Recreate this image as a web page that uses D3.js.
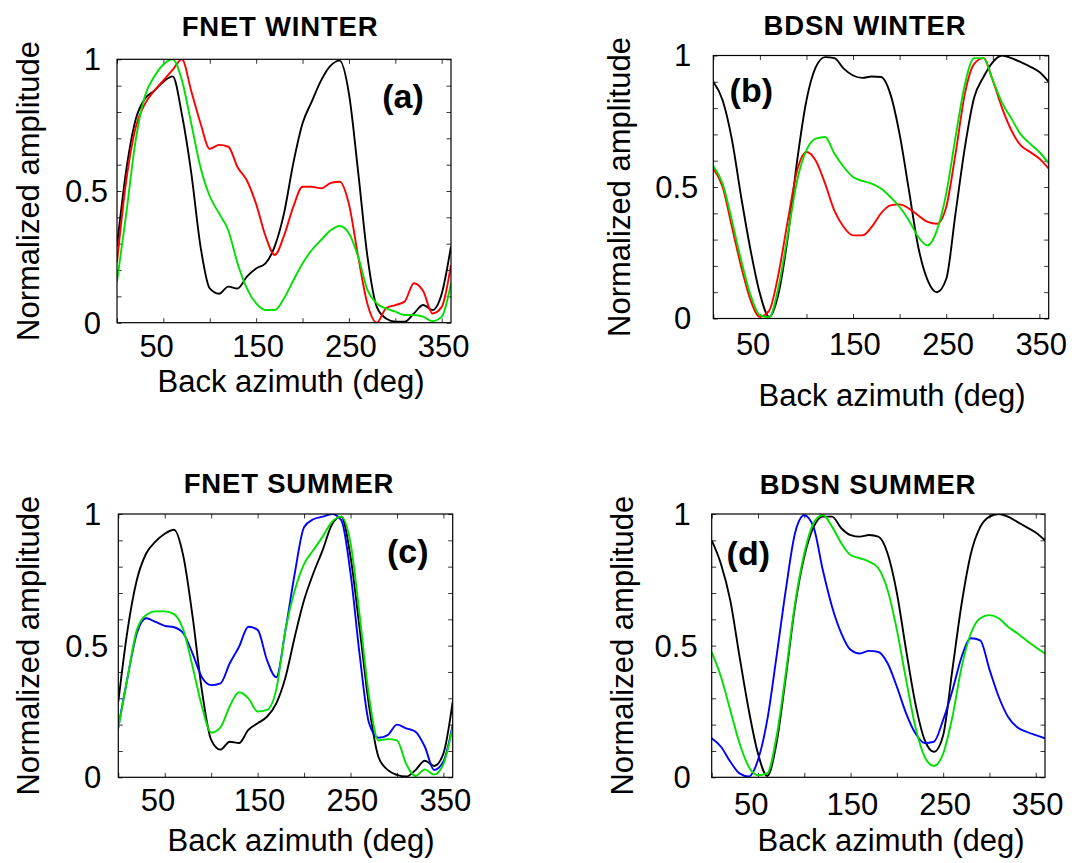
<!DOCTYPE html>
<html>
<head>
<meta charset="utf-8">
<script src="https://cdn.jsdelivr.net/npm/d3@7"></script>
<style>
body { margin: 0; background: #fff; }
svg text { font-family: "Liberation Sans", Arial, Helvetica, sans-serif; fill: #000; }
</style>
</head>
<body>
<svg id="chart" width="1074" height="863"></svg>
<script>
// back azimuth samples (deg), shared by all curves
var azimuth = [0, 10, 20, 30, 40, 50, 60, 70, 80, 90, 100, 110, 120, 130, 140, 150, 160, 170, 180,
               190, 200, 210, 220, 230, 240, 250, 260, 270, 280, 290, 300, 310, 320, 330, 340, 350, 360];

var xTicks = [0, 50, 100, 150, 200, 250, 300, 350];
var xTickLabels = [50, 150, 250, 350];
var yTicks = [0, 0.1, 0.2, 0.3, 0.4, 0.5, 0.6, 0.7, 0.8, 0.9, 1];
var yTickLabels = [0, 0.5, 1];

// (a) FNET winter
var fnetWinterBlack = [0.29, 0.58, 0.77, 0.85, 0.88, 0.915, 0.935, 0.79, 0.57, 0.29, 0.13, 0.11, 0.137, 0.13, 0.175, 0.206, 0.225, 0.29, 0.415,
                       0.605, 0.757, 0.84, 0.92, 0.975, 0.995, 0.87, 0.57, 0.25, 0.06, 0.016, 0.004, 0.004, 0.035, 0.067, 0.048, 0.11, 0.29];
var fnetWinterRed = [0.23, 0.54, 0.74, 0.83, 0.88, 0.92, 0.96, 1.0, 0.88, 0.757, 0.66, 0.675, 0.668, 0.59, 0.54, 0.45, 0.33, 0.257, 0.33,
                     0.44, 0.516, 0.516, 0.51, 0.53, 0.535, 0.45, 0.25, 0.07, 0.0, 0.055, 0.067, 0.08, 0.15, 0.12, 0.035, 0.06, 0.22];
var fnetWinterGreen = [0.156, 0.415, 0.69, 0.86, 0.934, 0.98, 1.0, 0.92, 0.757, 0.59, 0.48, 0.415, 0.35, 0.225, 0.13, 0.073, 0.048, 0.048, 0.092,
                       0.16, 0.225, 0.276, 0.314, 0.35, 0.367, 0.34, 0.25, 0.124, 0.073, 0.054, 0.042, 0.029, 0.029, 0.023, 0.006, 0.023, 0.15];

// (b) BDSN winter
var bdsnWinterBlack = [0.90, 0.83, 0.68, 0.46, 0.26, 0.095, 0.006, 0.095, 0.31, 0.60, 0.83, 0.956, 0.994, 0.99, 0.95, 0.924, 0.915, 0.92, 0.918,
                       0.854, 0.70, 0.487, 0.272, 0.146, 0.10, 0.15, 0.40, 0.65, 0.84, 0.918, 0.975, 1.0, 0.99, 0.975, 0.958, 0.937, 0.90];
var bdsnWinterRed = [0.57, 0.50, 0.348, 0.196, 0.07, 0.006, 0.03, 0.17, 0.373, 0.563, 0.633, 0.60, 0.513, 0.41, 0.348, 0.316, 0.316, 0.348, 0.40,
                     0.43, 0.434, 0.418, 0.392, 0.367, 0.36, 0.424, 0.627, 0.854, 0.968, 0.99, 0.905, 0.80, 0.715, 0.658, 0.633, 0.608, 0.57];
var bdsnWinterGreen = [0.58, 0.513, 0.373, 0.22, 0.089, 0.013, 0.005, 0.12, 0.32, 0.525, 0.64, 0.684, 0.69, 0.627, 0.576, 0.538, 0.523, 0.513, 0.494,
                       0.462, 0.424, 0.373, 0.31, 0.278, 0.335, 0.475, 0.69, 0.89, 0.99, 0.99, 0.905, 0.82, 0.76, 0.70, 0.665, 0.633, 0.59];

// (c) FNET summer
var fnetSummerBlack = [0.287, 0.56, 0.75, 0.85, 0.895, 0.925, 0.94, 0.84, 0.61, 0.33, 0.142, 0.105, 0.135, 0.13, 0.18, 0.205, 0.23, 0.28, 0.38,
                       0.534, 0.673, 0.775, 0.863, 0.96, 0.99, 0.838, 0.56, 0.27, 0.078, 0.028, 0.009, 0.003, 0.028, 0.063, 0.043, 0.09, 0.287];
var fnetSummerBlue = [0.19, 0.38, 0.547, 0.604, 0.59, 0.575, 0.57, 0.547, 0.47, 0.38, 0.35, 0.357, 0.433, 0.496, 0.572, 0.56, 0.446, 0.38, 0.56,
                      0.775, 0.95, 0.98, 0.99, 1.0, 0.977, 0.775, 0.46, 0.205, 0.15, 0.16, 0.2, 0.186, 0.173, 0.116, 0.028, 0.06, 0.2];
var fnetSummerGreen = [0.186, 0.38, 0.56, 0.616, 0.63, 0.63, 0.62, 0.56, 0.42, 0.27, 0.17, 0.19, 0.27, 0.323, 0.30, 0.25, 0.256, 0.332, 0.56,
                       0.71, 0.81, 0.863, 0.914, 0.97, 0.99, 0.89, 0.61, 0.306, 0.14, 0.145, 0.14, 0.05, 0.005, 0.03, 0.01, 0.05, 0.19];

// (d) BDSN summer
var bdsnSummerBlack = [0.90, 0.81, 0.673, 0.46, 0.256, 0.09, 0.005, 0.13, 0.38, 0.65, 0.838, 0.95, 0.99, 0.99, 0.946, 0.92, 0.914, 0.92, 0.914,
                       0.85, 0.70, 0.483, 0.28, 0.142, 0.097, 0.16, 0.41, 0.66, 0.85, 0.95, 0.99, 1.0, 0.99, 0.97, 0.95, 0.93, 0.90];
var bdsnSummerBlue = [0.148, 0.116, 0.06, 0.015, 0.003, 0.066, 0.218, 0.458, 0.711, 0.927, 0.995, 0.95, 0.787, 0.648, 0.547, 0.484, 0.47, 0.48, 0.476,
                      0.433, 0.344, 0.243, 0.167, 0.13, 0.135, 0.218, 0.33, 0.458, 0.528, 0.52, 0.41, 0.306, 0.23, 0.19, 0.173, 0.16, 0.148];
var bdsnSummerGreen = [0.475, 0.382, 0.256, 0.13, 0.04, 0.008, 0.015, 0.154, 0.395, 0.66, 0.85, 0.965, 0.996, 0.952, 0.889, 0.844, 0.832, 0.819, 0.794,
                       0.711, 0.56, 0.37, 0.192, 0.078, 0.043, 0.09, 0.23, 0.42, 0.547, 0.604, 0.616, 0.604, 0.572, 0.547, 0.52, 0.494, 0.47];

var BLACK = '#000', RED = '#ff0000', GREEN = '#00e000', BLUE = '#0000ff';

// layout of each subplot (pixel positions)
var panels = [
    { title: 'FNET WINTER', tag: '(a)', left: 117, top: 59.3, width: 334, height: 263.4,
      titleX: 280, titleY: 36, tagX: 286, tagY: 49, ylabX: -78, xlabX: 291, xlabDy: 69, tickDy: 34, yGap: 9,
      series: [[fnetWinterBlack, BLACK], [fnetWinterRed, RED], [fnetWinterGreen, GREEN]] },
    { title: 'BDSN WINTER', tag: '(b)', left: 713.3, top: 55.5, width: 335.4, height: 263,
      titleX: 865, titleY: 35, tagX: 38, tagY: 46, ylabX: -83, xlabX: 892, xlabDy: 87, tickDy: 36, yGap: 15,
      series: [[bdsnWinterBlack, BLACK], [bdsnWinterRed, RED], [bdsnWinterGreen, GREEN]] },
    { title: 'FNET SUMMER', tag: '(c)', left: 118.3, top: 514, width: 334.4, height: 263.3,
      titleX: 289, titleY: 493, tagX: 289.5, tagY: 49, ylabX: -79, xlabX: 301, xlabDy: 74, tickDy: 34, yGap: 10,
      series: [[fnetSummerBlack, BLACK], [fnetSummerBlue, BLUE], [fnetSummerGreen, GREEN]] },
    { title: 'BDSN SUMMER', tag: '(d)', left: 711.7, top: 514, width: 333.3, height: 263.3,
      titleX: 868, titleY: 494, tagX: 36.6, tagY: 51, ylabX: -79, xlabX: 891, xlabDy: 74, tickDy: 38, yGap: 14,
      series: [[bdsnSummerBlack, BLACK], [bdsnSummerBlue, BLUE], [bdsnSummerGreen, GREEN]] }
];

var svg = d3.select('#chart');
var tickLen = 4.5;

panels.forEach(function(p, i) {
    var x = d3.scaleLinear().domain([0, 360]).range([0, p.width]);
    var y = d3.scaleLinear().domain([0, 1]).range([p.height, 0]);

    // title
    svg.append('text')
        .attr('x', p.titleX)
        .attr('y', p.titleY)
        .attr('text-anchor', 'middle')
        .style('font-size', '27.5px')
        .style('font-weight', 'bold')
        .style('letter-spacing', '0.8px')
        .text(p.title);

    var g = svg.append('g')
        .attr('transform', 'translate(' + p.left + ',' + p.top + ')');

    g.append('clipPath').attr('id', 'clip' + i)
        .append('rect').attr('width', p.width).attr('height', p.height);

    // axes: inward ticks on all four sides, labels only on bottom/left
    var xBottom = d3.axisBottom(x).tickValues(xTicks).tickSize(-tickLen).tickFormat('');
    var xTop = d3.axisTop(x).tickValues(xTicks).tickSize(-tickLen).tickFormat('');
    var yLeft = d3.axisLeft(y).tickValues(yTicks).tickSize(-tickLen).tickFormat('');
    var yRight = d3.axisRight(y).tickValues(yTicks).tickSize(-tickLen).tickFormat('');

    g.append('g').attr('transform', 'translate(0,' + p.height + ')').call(xBottom);
    g.append('g').call(xTop);
    g.append('g').call(yLeft);
    g.append('g').attr('transform', 'translate(' + p.width + ',0)').call(yRight);
    g.selectAll('.domain').remove();
    g.selectAll('.tick line').attr('stroke', '#000').attr('stroke-width', 0.8);

    // curves
    var line = d3.line()
        .x(function(d, k) { return x(azimuth[k]); })
        .y(function(d) { return y(d); })
        .curve(d3.curveMonotoneX);

    g.append('g').attr('clip-path', 'url(#clip' + i + ')')
        .selectAll('path')
        .data(p.series)
        .enter().append('path')
        .attr('d', function(s) { return line(s[0]); })
        .attr('fill', 'none')
        .attr('stroke', function(s) { return s[1]; })
        .attr('stroke-width', 1.9)
        .attr('stroke-linejoin', 'round');

    // box
    g.append('rect')
        .attr('width', p.width).attr('height', p.height)
        .attr('fill', 'none').attr('stroke', '#000').attr('stroke-width', 1.2);

    // tick labels (the original puts them left-justified just before the tick)
    g.selectAll('.xlab')
        .data(xTickLabels)
        .enter().append('text')
        .attr('x', function(d) { return x(d) - 24; })
        .attr('y', p.height + p.tickDy)
        .attr('text-anchor', 'start')
        .style('font-size', '31px')
        .text(function(d) { return d; });

    g.selectAll('.ylab')
        .data(yTickLabels)
        .enter().append('text')
        .attr('x', function(d) { return -p.yGap - (String(d).length > 1 ? 0 : 7); })
        .attr('y', function(d) { return y(d); })
        .attr('dy', '0.35em')
        .attr('text-anchor', 'end')
        .style('font-size', '31px')
        .text(function(d) { return d; });

    // panel tag
    g.append('text')
        .attr('x', p.tagX)
        .attr('y', p.tagY)
        .attr('text-anchor', 'middle')
        .style('font-size', '34px')
        .style('font-weight', 'bold')
        .text(p.tag);

    // axis titles
    svg.append('text')
        .attr('x', p.xlabX)
        .attr('y', p.top + p.height + p.xlabDy)
        .attr('text-anchor', 'middle')
        .style('font-size', '31px')
        .text('Back azimuth (deg)');

    g.append('text')
        .attr('transform', 'translate(' + p.ylabX + ',' + (p.height / 2) + ') rotate(-90)')
        .attr('text-anchor', 'middle')
        .style('font-size', '31px')
        .text('Normalized amplitude');
});
</script>
</body>
</html>
